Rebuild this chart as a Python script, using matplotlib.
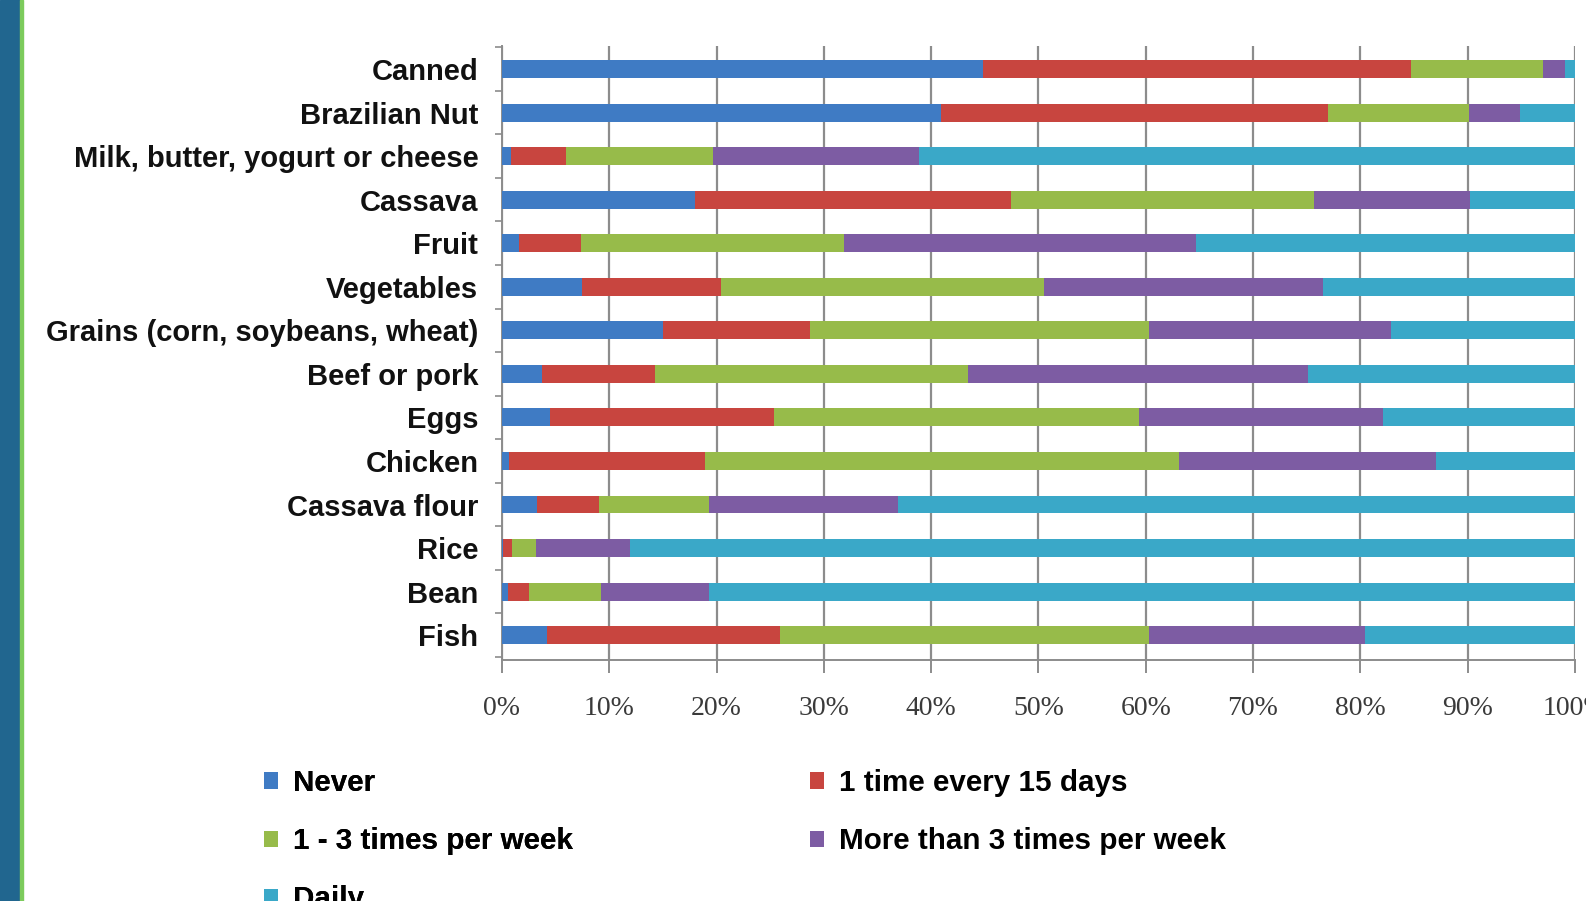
import matplotlib as mpl

mpl.use("Agg")
import matplotlib.pyplot as plt
import numpy as np
from matplotlib import font_manager
from matplotlib.patches import Rectangle

# food items, top to bottom as in the chart
FOODS = ["Canned", "Brazilian Nut", "Milk, butter, yogurt or cheese", "Cassava", "Fruit",
         "Vegetables", "Grains (corn, soybeans, wheat)", "Beef or pork", "Eggs", "Chicken",
         "Cassava flour", "Rice", "Bean", "Fish"]

# percent of respondents per frequency class
NEVER = [44.8, 40.9, 0.8, 18.0, 1.6, 7.5, 15.0, 3.7, 4.5, 0.7, 3.3, 0.1, 0.6, 4.2]
EVERY_15_DAYS = [39.9, 36.1, 5.2, 29.4, 5.8, 12.9, 13.7, 10.6, 20.9, 18.2, 5.7, 0.8, 1.9, 21.7]
WEEK_1_3 = [12.3, 13.1, 13.7, 28.3, 24.5, 30.1, 31.6, 29.1, 34.0, 44.2, 10.3, 2.3, 6.7, 34.4]
WEEK_MORE_3 = [2.1, 4.8, 19.2, 14.5, 32.8, 26.0, 22.6, 31.7, 22.7, 24.0, 17.6, 8.7, 10.1, 20.1]
DAILY = [0.9, 5.1, 61.1, 9.8, 35.3, 23.5, 17.1, 24.9, 17.9, 12.9, 63.1, 88.1, 80.7, 19.6]

SERIES = ["Never", "1 time every 15 days", "1 - 3 times per week",
          "More than 3 times per week", "Daily"]
COLORS = ["#3F7BC4", "#C8453F", "#97BB4A", "#7D5CA3", "#3AA8C8"]
XTICKS = [0, 10, 20, 30, 40, 50, 60, 70, 80, 90, 100]

GRID = "#8C8C8C"


def pick_label_font():
    names = {f.name for f in font_manager.fontManager.ttflist}
    if "Liberation Sans Narrow" in names:
        return "Liberation Sans Narrow", 25
    return "Liberation Sans", 21


def main() -> None:
    fam, size = pick_label_font()
    fig = plt.figure(figsize=(15.86, 9.01), dpi=100)

    # left decoration strip of the slide
    fig.patches.append(Rectangle((0, 0), 20 / 1586, 1, transform=fig.transFigure,
                                 color="#21668F", zorder=0))
    fig.patches.append(Rectangle((20 / 1586, 0), 2.5 / 1586, 1, transform=fig.transFigure,
                                 color="#7CCB5C", zorder=0))

    ax = fig.add_axes([0.3165, 0.2675, 0.6765, 0.6815])
    y = np.arange(len(FOODS))[::-1]
    data = [NEVER, EVERY_15_DAYS, WEEK_1_3, WEEK_MORE_3, DAILY]
    left = np.zeros(len(FOODS))
    handles = []
    for vals, col, name in zip(data, COLORS, SERIES):
        b = ax.barh(y, vals, left=left, height=0.41, color=col, label=name, zorder=3)
        handles.append(b)
        left += np.array(vals)

    ax.set_xlim(0, 100)
    ax.set_ylim(-0.57, len(FOODS) - 0.47)
    ax.set_xticks(XTICKS)
    ax.set_xticklabels([f"{t}%" for t in XTICKS], family="Liberation Serif", fontsize=20,
                       color="#3A3A3A")
    ax.xaxis.grid(True, color=GRID, lw=1.6, zorder=0)
    ax.set_axisbelow(True)
    ax.set_yticks(y)
    ax.set_yticklabels(FOODS, family=fam, fontsize=size, fontweight="bold", color="#111111")
    ax.set_yticks(np.arange(len(FOODS) + 1) - 0.5, minor=True)
    ax.tick_params(axis="y", which="major", length=0, pad=17)
    ax.tick_params(axis="y", which="minor", length=5, width=1.2, color=GRID, direction="out")
    ax.tick_params(axis="x", which="major", length=9, width=1.4, color=GRID, direction="out", pad=17)
    for s in ["top", "right"]:
        ax.spines[s].set_visible(False)
    for s in ["left", "bottom"]:
        ax.spines[s].set_color(GRID)
        ax.spines[s].set_linewidth(1.4)

    # legend laid out in two columns like the original
    lab_font = {"family": fam, "size": size + 0.3, "weight": "bold"}
    leg_kw = dict(loc="upper left", frameon=False, prop=lab_font, handlelength=0.47,
                  handleheight=0.47, handletextpad=0.5, labelspacing=1.02,
                  borderaxespad=0, borderpad=0)
    col1 = [0, 2, 4]
    col2 = [1, 3]
    leg1 = fig.legend([handles[i] for i in col1], [SERIES[i] for i in col1],
                      bbox_to_anchor=(264 / 1586, 1 - 769 / 901), **leg_kw)
    fig.add_artist(leg1)
    fig.legend([handles[i] for i in col2], [SERIES[i] for i in col2],
               bbox_to_anchor=(810 / 1586, 1 - 769 / 901), **leg_kw)

    fig.savefig("out.png", dpi=100, facecolor="white")
    plt.close(fig)


if __name__ == "__main__":
    main()
